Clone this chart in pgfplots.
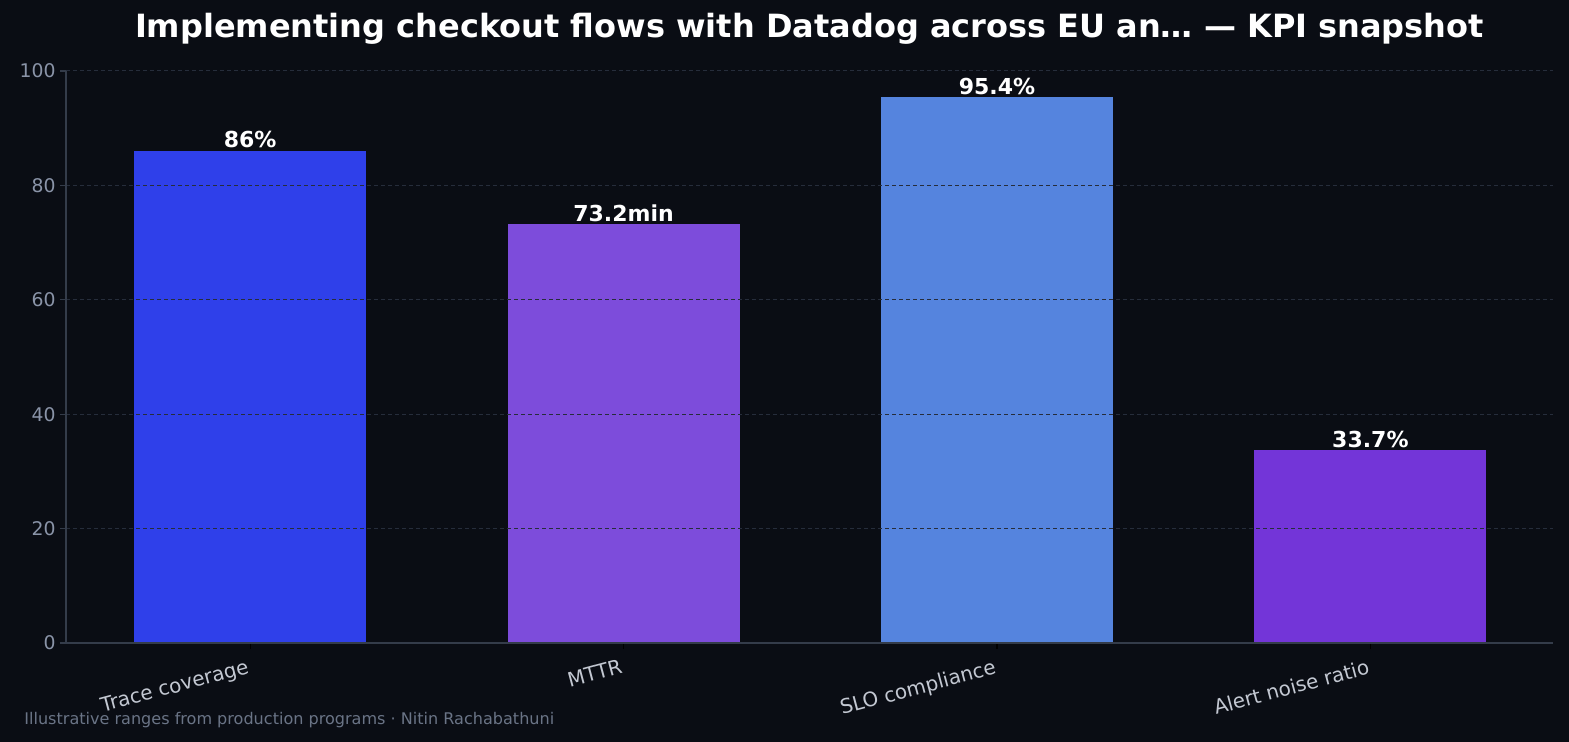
\documentclass[border=0pt]{standalone}
\usepackage{fontspec}
\setmainfont{DejaVu Sans}
\usepackage{pgfplots}
\pgfplotsset{compat=1.18}
\definecolor{bg}{HTML}{0A0D14}
\definecolor{spine}{HTML}{343C4A}
\definecolor{gridc}{HTML}{262D3B}
\definecolor{ytl}{HTML}{8A94A8}
\definecolor{xtl}{HTML}{C3C8D2}
\definecolor{foot}{HTML}{6A7486}
\definecolor{c1}{HTML}{2F40EA}
\definecolor{c2}{HTML}{7D4CDB}
\definecolor{c3}{HTML}{5584DE}
\definecolor{c4}{HTML}{7335D8}
\begin{document}
\begin{tikzpicture}
\fill[bg] (-33pt,-49.5pt) rectangle (751.5pt,321.5pt);
\begin{axis}[
  at={(0pt,0pt)}, anchor=south west,
  scale only axis, width=743.5pt, height=286pt,
  xmin=-0.493, xmax=3.489, ymin=0, ymax=100,
  axis background/.style={fill=bg},
  axis on top,
  axis x line*=bottom, axis y line*=left,
  axis line style={draw=spine, line width=0.8pt, -},
  xtick={0,1,2,3},
  xticklabels={Trace coverage, MTTR, SLO compliance, Alert noise ratio},
  ytick={0,20,40,60,80,100},
  ymajorgrids,
  grid style={draw=gridc, dash pattern=on 2pt off 1.5pt, line width=0.5pt},
  major tick length=3pt,
  tick align=outside,
  ytick style={draw=spine, line width=0.6pt},
  xtick style={draw=black, line width=0.6pt},
  /pgf/number format/assume math mode=true,
  yticklabel style={font=\fontsize{9.4pt}{11pt}\selectfont, text=ytl, inner sep=2pt},
  xticklabel style={font=\fontsize{10pt}{12pt}\selectfont, text=xtl, rotate=15, anchor=north east, inner sep=1pt, yshift=-3pt, xshift=-2pt},
  ybar, bar width=116pt,
  every axis plot/.append style={draw=none, bar shift=0pt},
  point meta=explicit symbolic,
  nodes near coords={\pgfplotspointmeta},
  every node near coord/.append style={font=\bfseries\fontsize{11pt}{13pt}\selectfont, text=white, anchor=south, inner sep=1.2pt},
  title={\bfseries Implementing checkout flows with Datadog across EU an\ldots\ — KPI snapshot},
  title style={font=\fontsize{16pt}{19pt}\selectfont, text=white, at={(0.5,1)}, anchor=south, yshift=4pt},
  clip=false,
]
\addplot[fill=c1] coordinates {(0,86) [86\%]};
\addplot[fill=c2] coordinates {(1,73.2) [73.2min]};
\addplot[fill=c3] coordinates {(2,95.4) [95.4\%]};
\addplot[fill=c4] coordinates {(3,33.7) [33.7\%]};
\end{axis}
\node[anchor=west, text=foot, font=\fontsize{8.03pt}{10pt}\selectfont, inner sep=0pt] at (-21pt,-38.5pt) {Illustrative ranges from production programs · Nitin Rachabathuni};
\pgfresetboundingbox
\useasboundingbox (-33pt,-49.5pt) rectangle (751.5pt,321.5pt);
\end{tikzpicture}
\end{document}
